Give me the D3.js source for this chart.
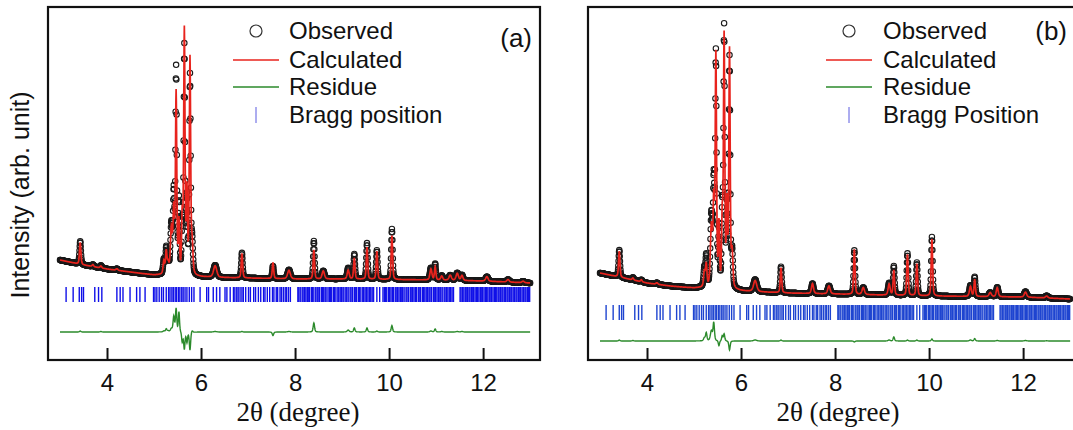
<!DOCTYPE html>
<html>
<head>
<meta charset="utf-8">
<script src="https://cdn.jsdelivr.net/npm/d3@7"></script>
<style>
  body { margin: 0; background: #fff; }
  svg { display: block; }
</style>
</head>
<body>
<div id="chart"></div>
<script>
// Data
////////////////////////////////////////////////////////////////////
const xTicks = [4, 6, 8, 10, 12];

// background anchors (2theta, counts)
const bgAnglesA = [3.0, 3.2, 3.5, 4.0, 4.5, 5.0, 5.2, 6.0, 7.0, 8.0, 9.0, 10.0, 11.0, 12.0, 13.0];
const bgCountsA = [10000, 9800, 9500, 9100, 8800, 8500, 8500, 8300, 8200, 8100, 8100, 8050, 8000, 7900, 7700];
const bgAnglesB = [3.0, 3.5, 4.0, 4.5, 5.0, 5.2, 6.0, 7.0, 8.0, 9.0, 10.0, 11.0, 12.0, 13.0];
const bgCountsB = [8700, 8200, 7700, 7400, 7200, 7200, 6900, 6700, 6600, 6500, 6400, 6350, 6300, 6100];

// reflections: position, calculated height, observed height, fwhm
const peakPosA = [3.43, 3.70, 3.87, 4.21, 5.21, 5.26, 5.30, 5.37, 5.42, 5.47, 5.53, 5.60, 5.645, 5.70, 5.765, 5.81,
  6.30, 6.87, 7.53, 7.87, 8.40, 8.60, 9.13, 9.26, 9.53, 9.74, 10.06, 10.89, 10.98, 11.12, 11.30, 11.45, 11.55, 12.08, 12.53, 12.85];
const peakCalcA = [2200, 200, 200, 150, 1300, 2200, 1000, 4500, 6000, 18000, 5000, 5500, 24300, 8000, 21500, 3000,
  1150, 2450, 1600, 850, 2900, 800, 900, 2100, 3200, 2800, 4400, 1100, 1300, 400, 500, 700, 500, 450, 250, 150];
const peakObsA = [2300, 200, 250, 150, 1400, 2500, 1100, 4800, 7500, 20300, 7000, 4500, 22600, 7000, 19700, 3200,
  1200, 2500, 1250, 900, 3800, 800, 1100, 2500, 3600, 2900, 5050, 1200, 1600, 450, 500, 750, 550, 450, 250, 150];
const peakWidthA = [0.035, 0.04, 0.04, 0.05, 0.04, 0.035, 0.04, 0.05, 0.035, 0.033, 0.03, 0.03, 0.033, 0.03, 0.033, 0.04,
  0.08, 0.035, 0.035, 0.07, 0.035, 0.06, 0.05, 0.035, 0.035, 0.035, 0.035, 0.05, 0.035, 0.05, 0.06, 0.06, 0.05, 0.06, 0.06, 0.06];

const peakPosB = [3.41, 3.70, 3.88, 4.21, 5.22, 5.26, 5.37, 5.42, 5.465, 5.53, 5.60, 5.64, 5.70, 5.755, 5.81,
  6.30, 6.85, 7.52, 7.87, 8.41, 8.60, 9.15, 9.25, 9.54, 9.74, 10.06, 10.88, 10.97, 11.30, 11.45, 12.05, 12.50];
const peakCalcB = [2600, 200, 200, 150, 1500, 2200, 6000, 8000, 23000, 6000, 6500, 25000, 8000, 23700, 3500,
  1100, 2500, 1000, 800, 4500, 700, 1100, 2500, 4100, 3200, 5700, 1000, 1700, 400, 900, 500, 200];
const peakObsB = [2700, 250, 200, 150, 1800, 3000, 7000, 9800, 23000, 5500, 7000, 25700, 8000, 22800, 3500,
  1200, 2600, 1000, 800, 4400, 700, 1200, 2900, 4200, 3300, 5900, 1100, 1950, 400, 950, 550, 220];
const peakWidthB = [0.035, 0.04, 0.04, 0.05, 0.04, 0.035, 0.05, 0.035, 0.033, 0.03, 0.03, 0.033, 0.03, 0.033, 0.04,
  0.08, 0.035, 0.05, 0.06, 0.035, 0.06, 0.05, 0.035, 0.035, 0.035, 0.035, 0.05, 0.035, 0.06, 0.05, 0.06, 0.06];

// Bragg reflection positions (2theta)
const braggPos = [
  3.13, 3.28, 3.41, 3.46, 3.50, 3.74, 3.82, 3.89, 4.21, 4.28, 4.34, 4.49, 4.63, 4.70, 4.81,
  4.99, 5.02, 5.06, 5.11, 5.16, 5.20, 5.26, 5.31, 5.34, 5.38, 5.41, 5.45, 5.48, 5.52, 5.55,
  5.59, 5.62, 5.66, 5.70, 5.75, 5.80, 5.85, 5.98, 6.12, 6.16, 6.26, 6.33, 6.40, 6.51, 6.55,
  6.62, 6.69, 6.72, 6.76, 6.79, 6.83, 6.87, 6.90, 6.95, 7.01, 7.05, 7.12, 7.16, 7.22, 7.27,
  7.33, 7.36, 7.41, 7.46, 7.52, 7.55, 7.60, 7.63, 7.68, 7.71, 7.75, 7.79, 7.82, 7.86, 7.90,
  8.06, 8.08, 8.11, 8.15, 8.17, 8.20, 8.23, 8.26, 8.28, 8.31, 8.35, 8.37, 8.40, 8.44, 8.47,
  8.49, 8.52, 8.56, 8.58, 8.61, 8.64, 8.66, 8.70, 8.73, 8.75, 8.78, 8.82, 8.84, 8.87, 8.91,
  8.93, 8.96, 8.99, 9.02, 9.04, 9.08, 9.10, 9.13, 9.17, 9.19, 9.22, 9.26, 9.28, 9.31, 9.35,
  9.37, 9.40, 9.44, 9.46, 9.49, 9.52, 9.55, 9.58, 9.61, 9.64, 9.67, 9.74, 9.80, 9.87, 9.90,
  9.92, 9.95, 9.99, 10.01, 10.04, 10.07, 10.09, 10.13, 10.15, 10.18, 10.21, 10.24, 10.27, 10.29, 10.32,
  10.36, 10.38, 10.41, 10.45, 10.47, 10.50, 10.53, 10.56, 10.58, 10.62, 10.64, 10.67, 10.71, 10.73, 10.76,
  10.79, 10.82, 10.85, 10.87, 10.90, 10.94, 10.96, 10.99, 11.02, 11.05, 11.08, 11.10, 11.13, 11.17, 11.19,
  11.22, 11.25, 11.28, 11.31, 11.34, 11.37, 11.51, 11.53, 11.56, 11.59, 11.62, 11.64, 11.67, 11.70, 11.72,
  11.75, 11.78, 11.80, 11.83, 11.86, 11.88, 11.91, 11.94, 11.96, 11.99, 12.02, 12.05, 12.07, 12.10, 12.13,
  12.15, 12.18, 12.21, 12.24, 12.26, 12.29, 12.32, 12.34, 12.37, 12.40, 12.42, 12.45, 12.48, 12.51, 12.53,
  12.56, 12.59, 12.61, 12.64, 12.67, 12.70, 12.72, 12.75, 12.78, 12.80, 12.83, 12.86, 12.89, 12.91, 12.94, 12.97, 12.99
];

const legendA = ["Observed", "Calculated", "Residue", "Bragg position"];
const legendB = ["Observed", "Calculated", "Residue", "Bragg Position"];

// Dimensions
////////////////////////////////////////////////////////////////////
const dimensions = { width: 1073, height: 430, top: 7, bottom: 360 };

const svg = d3
  .select("#chart")
  .append("svg")
  .attr("width", dimensions.width)
  .attr("height", dimensions.height);

const sans = "'Liberation Sans', Arial, sans-serif";
const serif = "'Liberation Serif', 'Times New Roman', serif";

// profile from the reflection list
const angles = d3.range(3, 13.0001, 0.005);
const pv = (x, p, h, w) => {
  const t = (x - p) / w;
  return h * (0.4 / (1 + 4 * t * t) + 0.6 * Math.exp(-4 * Math.LN2 * t * t));
};

function buildPattern(bgA, bgC, pos, calcH, obsH, wid) {
  const bg = d3.scaleLinear().domain(bgA).range(bgC);
  return angles.map((x) => {
    let calc = bg(x);
    let obs = bg(x);
    pos.forEach((p, i) => {
      if (Math.abs(x - p) < 0.6) {
        calc += pv(x, p, calcH[i], wid[i]);
        obs += pv(x, p, obsH[i], wid[i]);
      }
    });
    return { x, calc, obs };
  });
}

// Panels
////////////////////////////////////////////////////////////////////
const panels = [
  {
    id: "a", left: 48, right: 540,
    data: buildPattern(bgAnglesA, bgCountsA, peakPosA, peakCalcA, peakObsA, peakWidthA),
    residueOffset: 2800, braggTop: 7300, braggBottom: 5800,
    braggColor: "#1010e8",
    legend: legendA, legendSym: 256, legendText: 289, tag: "(a)", tagX: 532, tagY: 47,
  },
  {
    id: "b", left: 588, right: 1080,
    data: buildPattern(bgAnglesB, bgCountsB, peakPosB, peakCalcB, peakObsB, peakWidthB),
    residueOffset: 1900, braggTop: 5500, braggBottom: 4000,
    braggColor: "#1e44d0",
    legend: legendB, legendSym: 849, legendText: 883, tag: "(b)", tagX: 1067, tagY: 40,
  },
];

const yScale = d3.scaleLinear().domain([0, 35300]).range([dimensions.bottom, dimensions.top]);

panels.forEach((pn) => {
  const xScale = d3.scaleLinear().domain([2.745, 13.21]).range([pn.left, pn.right]);
  const g = svg.append("g");

  g.append("clipPath")
    .attr("id", "clip-" + pn.id)
    .append("rect")
    .attr("x", pn.left)
    .attr("y", dimensions.top)
    .attr("width", pn.right - pn.left)
    .attr("height", dimensions.bottom - dimensions.top);

  const plot = g.append("g").attr("clip-path", `url(#clip-${pn.id})`);

  // Bragg ticks
  plot
    .append("g")
    .selectAll("line")
    .data(braggPos)
    .join("line")
    .attr("x1", (d) => xScale(d))
    .attr("x2", (d) => xScale(d))
    .attr("y1", yScale(pn.braggTop))
    .attr("y2", yScale(pn.braggBottom))
    .attr("stroke", pn.braggColor)
    .attr("stroke-width", 1.4);

  // Residue
  const residue = d3
    .line()
    .x((d) => xScale(d.x))
    .y((d) => yScale(d.obs - d.calc + pn.residueOffset));
  plot
    .append("path")
    .datum(pn.data)
    .attr("d", residue)
    .attr("fill", "none")
    .attr("stroke", "#2b8a2b")
    .attr("stroke-width", 1.4);

  // Observed
  plot
    .append("g")
    .selectAll("circle")
    .data(pn.data)
    .join("circle")
    .attr("cx", (d) => xScale(d.x))
    .attr("cy", (d) => yScale(d.obs))
    .attr("r", 2.7)
    .attr("fill", "none")
    .attr("stroke", "#1a1a1a")
    .attr("stroke-width", 1.1);

  // Calculated
  const calcLine = d3
    .line()
    .x((d) => xScale(d.x))
    .y((d) => yScale(d.calc));
  plot
    .append("path")
    .datum(pn.data)
    .attr("d", calcLine)
    .attr("fill", "none")
    .attr("stroke", "#e8231d")
    .attr("stroke-width", 1.7);

  // Frame
  g.append("rect")
    .attr("x", pn.left)
    .attr("y", dimensions.top)
    .attr("width", pn.right - pn.left)
    .attr("height", dimensions.bottom - dimensions.top)
    .attr("fill", "none")
    .attr("stroke", "#111")
    .attr("stroke-width", 2.2);

  // X axis
  const xAxis = d3
    .axisBottom(xScale)
    .tickValues(xTicks)
    .tickSizeInner(-12)
    .tickSizeOuter(0)
    .tickPadding(14);

  const xAxisGroup = g
    .append("g")
    .attr("transform", `translate(0,${dimensions.bottom})`)
    .call(xAxis);
  xAxisGroup.select(".domain").remove();
  xAxisGroup.selectAll(".tick line").attr("stroke", "#111").attr("stroke-width", 2);
  xAxisGroup
    .selectAll(".tick text")
    .attr("fill", "#111")
    .style("font-family", sans)
    .style("font-size", "24px");

  g.append("text")
    .attr("x", (pn.left + pn.right) / 2 + 4)
    .attr("y", 421)
    .attr("text-anchor", "middle")
    .style("font-family", serif)
    .style("font-size", "27px")
    .attr("fill", "#111")
    .text("2θ (degree)");

  // Legend
  const rows = [31, 60, 87, 115];
  const leg = g.append("g");
  leg.append("circle")
    .attr("cx", pn.legendSym).attr("cy", rows[0]).attr("r", 6)
    .attr("fill", "none").attr("stroke", "#333").attr("stroke-width", 1.2);
  leg.append("line")
    .attr("x1", pn.legendSym - 23).attr("x2", pn.legendSym + 23)
    .attr("y1", rows[1]).attr("y2", rows[1])
    .attr("stroke", "#e8231d").attr("stroke-width", 1.6);
  leg.append("line")
    .attr("x1", pn.legendSym - 23).attr("x2", pn.legendSym + 23)
    .attr("y1", rows[2]).attr("y2", rows[2])
    .attr("stroke", "#2b8a2b").attr("stroke-width", 1.6);
  leg.append("line")
    .attr("x1", pn.legendSym).attr("x2", pn.legendSym)
    .attr("y1", rows[3] - 8).attr("y2", rows[3] + 8)
    .attr("stroke", "#5a5ae0").attr("stroke-width", 1);
  leg.selectAll("text")
    .data(pn.legend)
    .join("text")
    .attr("x", pn.legendText)
    .attr("y", (d, i) => rows[i] + 8)
    .style("font-family", sans)
    .style("font-size", "24px")
    .attr("fill", "#111")
    .text((d) => d);

  g.append("text")
    .attr("x", pn.tagX)
    .attr("y", pn.tagY)
    .attr("text-anchor", "end")
    .style("font-family", sans)
    .style("font-size", "26px")
    .attr("fill", "#111")
    .text(pn.tag);
});

// Y label (left panel only)
svg.append("text")
  .attr("transform", "translate(29,195) rotate(-90)")
  .attr("text-anchor", "middle")
  .style("font-family", sans)
  .style("font-size", "25px")
  .attr("fill", "#111")
  .text("Intensity (arb. unit)");
</script>
</body>
</html>
